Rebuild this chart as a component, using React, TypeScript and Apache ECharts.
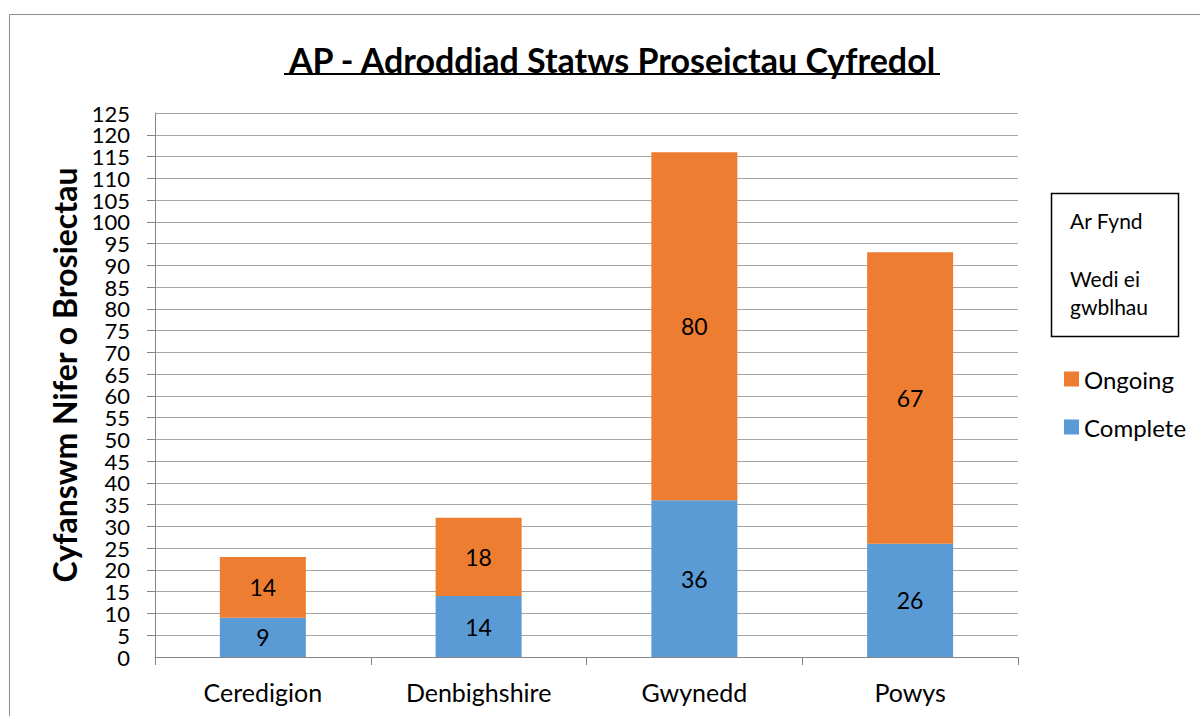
import React, { useEffect, useRef } from "react";
import * as echarts from "echarts";

const categories = ["Ceredigion", "Denbighshire", "Gwynedd", "Powys"];
const completeValues = [9, 14, 36, 26];
const ongoingValues = [14, 18, 80, 67];
const titleText = "AP - Adroddiad Statws Proseictau Cyfredol";
const yAxisName = "Cyfanswm Nifer o Brosiectau";
const boxLines = ["Ar Fynd", "Wedi ei", "gwblhau"];
const yMin = 0;
const yMax = 125;
const yStep = 5;

const FONT = "Lato, 'Open Sans', sans-serif";

export default function App() {
  const ref = useRef<HTMLDivElement>(null);
  useEffect(() => {
    const chart = echarts.init(ref.current!, null, { renderer: "svg" });
    const labelStyle = {
      show: true,
      position: "inside",
      color: "#000",
      fontSize: 23,
      fontFamily: FONT,
    };
    const boxText = (t: string, y: number) => ({
      type: "text",
      x: 1070,
      y,
      style: { text: t, fontSize: 21, fontFamily: FONT, fill: "#000", verticalAlign: "middle" },
    });
    const tickLabel = { fontSize: 22, color: "#000", fontFamily: FONT, margin: 25 };
    chart.setOption({
      animation: false,
      backgroundColor: "#fff",
      grid: { left: 155, right: 182, top: 113, bottom: 59 },
      legend: {
        orient: "vertical",
        left: 1059,
        top: 362,
        itemWidth: 15,
        itemHeight: 15,
        itemGap: 24,
        icon: "rect",
        data: ["Ongoing", "Complete"],
        textStyle: { fontSize: 24, color: "#000", fontFamily: FONT },
      },
      xAxis: {
        type: "category",
        data: categories,
        axisLine: { lineStyle: { color: "#868686", width: 1 } },
        axisTick: { show: true, length: 8, lineStyle: { color: "#868686" } },
        axisLabel: { fontSize: 25, color: "#000", fontFamily: FONT, margin: 22 },
      },
      yAxis: [
        {
          type: "value",
          min: yMin,
          max: yMax,
          interval: yStep,
          name: yAxisName,
          nameLocation: "middle",
          nameGap: 75,
          nameTextStyle: {
            fontSize: 32,
            fontWeight: "bold",
            color: "#000",
            fontFamily: FONT,
            padding: [0, 0, 0, 20],
          },
          axisLine: { show: true, lineStyle: { color: "#868686" } },
          axisTick: { show: true, length: 8, lineStyle: { color: "#868686" } },
          splitLine: { show: true, lineStyle: { color: "#a6a6a6", width: 1 } },
          axisLabel: { ...tickLabel, showMinLabel: false, showMaxLabel: false },
        },
        {
          type: "value",
          position: "left",
          offset: 0,
          min: yMin,
          max: yMax,
          interval: yStep,
          axisLine: { show: false },
          axisTick: { show: false },
          splitLine: { show: false },
          axisLabel: {
            ...tickLabel,
            showMinLabel: true,
            showMaxLabel: true,
            formatter: (v: number) => (v === yMin || v === yMax ? String(v) : ""),
          },
        },
      ],
      series: [
        {
          name: "Complete",
          type: "bar",
          stack: "total",
          data: completeValues,
          barWidth: 86,
          itemStyle: { color: "#5B9BD5" },
          label: labelStyle,
        },
        {
          name: "Ongoing",
          type: "bar",
          stack: "total",
          data: ongoingValues,
          barWidth: 86,
          itemStyle: { color: "#ED7D31" },
          label: labelStyle,
        },
      ],
      graphic: [
        {
          type: "rect",
          shape: { x: 9.5, y: 14.5, width: 1300, height: 800 },
          style: { fill: "none", stroke: "#8c8c8c", lineWidth: 1 },
          silent: true,
        },
        {
          type: "text",
          x: 612,
          y: 59,
          style: {
            text: titleText,
            fontSize: 34,
            fontWeight: "bold",
            fontFamily: FONT,
            fill: "#000",
            align: "center",
            verticalAlign: "middle",
          },
        },
        {
          type: "line",
          shape: { x1: 284, y1: 74, x2: 940, y2: 74 },
          style: { stroke: "#000", lineWidth: 2 },
        },
        {
          type: "rect",
          shape: { x: 1051.5, y: 193.5, width: 127, height: 143 },
          style: { fill: "#fff", stroke: "#000", lineWidth: 1.5 },
        },
        boxText(boxLines[0], 220),
        boxText(boxLines[1], 278),
        boxText(boxLines[2], 306),
      ],
    });
    return () => chart.dispose();
  }, []);
  return (
    <div
      ref={ref}
      style={{ position: "fixed", left: 0, top: 0, width: 1200, height: 716 }}
    />
  );
}
